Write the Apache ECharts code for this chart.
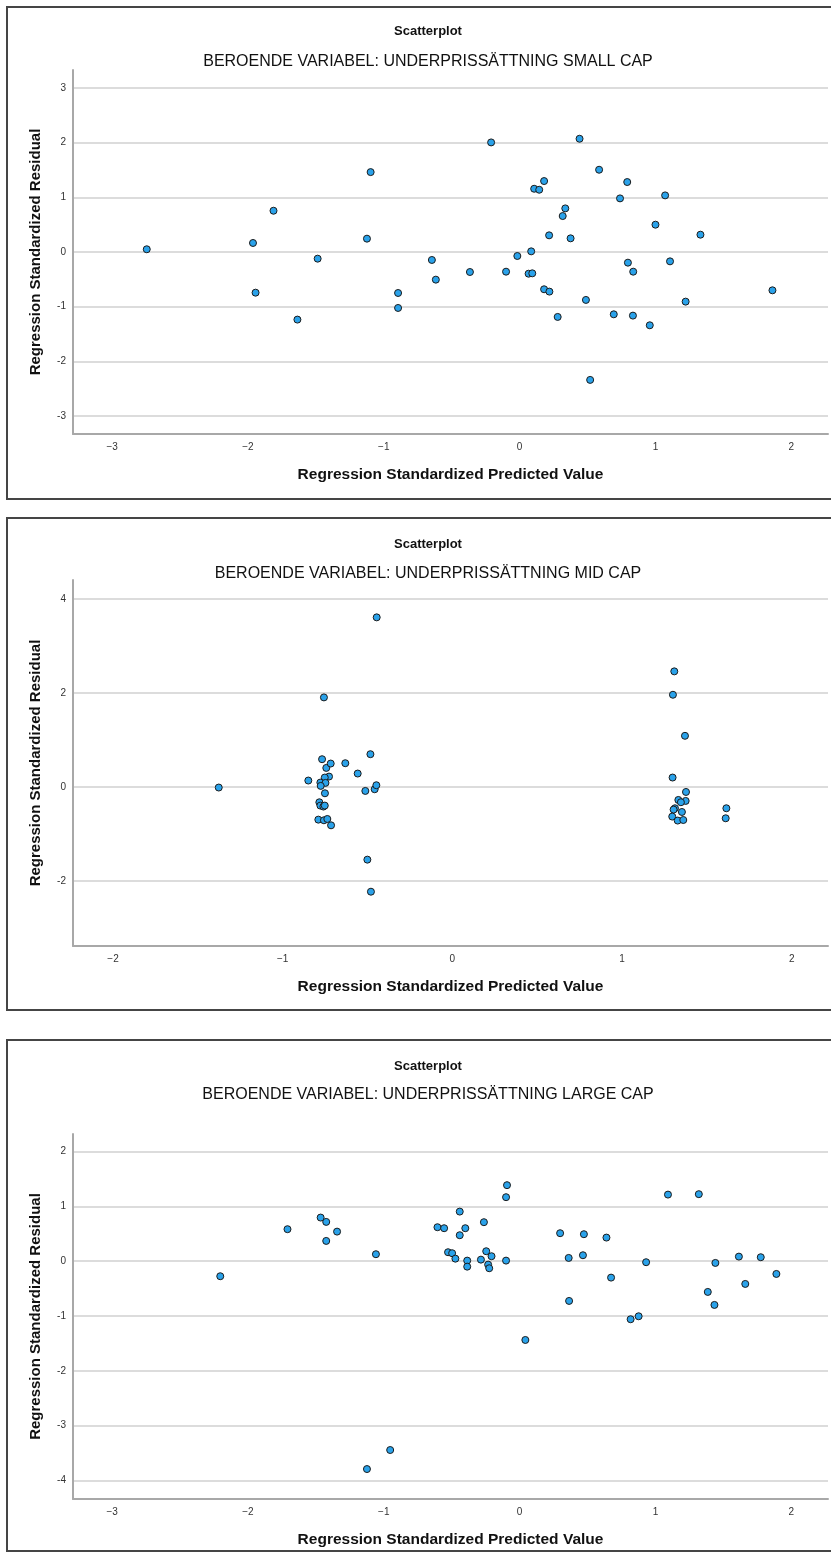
<!DOCTYPE html>
<html>
<head>
<meta charset="utf-8">
<script src="https://cdn.jsdelivr.net/npm/echarts@6/dist/echarts.min.js"></script>
<style>
  html, body { margin: 0; padding: 0; background: #fff; }
  #chart { width: 831px; height: 1558px; }
</style>
</head>
<body>
<div id="chart"></div>
<script>

// small cap
const smallX = [-2.745, -1.963, -1.812, -1.944, -1.487, -1.636, -1.097, -1.124, -0.895, -0.895, -0.646, -0.617,
  -0.21, -0.366, -0.1, -0.017, 0.085, 0.066, 0.093, 0.107, 0.144, 0.18, 0.217, 0.18, 0.219, 0.28, 0.317, 0.336,
  0.375, 0.441, 0.488, 0.519, 0.585, 0.693, 0.739, 0.792, 0.797, 0.836, 0.834, 0.958, 1.0, 1.071, 1.107, 1.222,
  1.331, 1.861];
const smallY = [0.05, 0.165, 0.755, -0.744, -0.122, -1.237, 1.462, 0.244, -0.75, -1.024, -0.146, -0.506,
  2.005, -0.366, -0.36, -0.073, 0.012, -0.397, -0.39, 1.157, 1.139, 1.298, 0.305, -0.682, -0.725, -1.188, 0.658, 0.798,
  0.25, 2.072, -0.877, -2.34, 1.505, -1.14, 0.981, 1.28, -0.195, -0.36, -1.164, -1.341, 0.5, 1.036, -0.171, -0.908,
  0.317, -0.701];

// mid cap
const midX = [-0.446, -0.757, -1.377, -0.849, -0.768, -0.743, -0.717, -0.631, -0.558, -0.483, -0.727, -0.752,
  -0.778, -0.748, -0.776, -0.751, -0.784, -0.778, -0.760, -0.752, -0.79, -0.757, -0.737, -0.715, -0.513, -0.458,
  -0.448, -0.501, -0.48,
  1.308, 1.3, 1.371, 1.298, 1.377, 1.332, 1.375, 1.347, 1.312, 1.304, 1.353, 1.296, 1.328, 1.361, 1.615, 1.611];
const midY = [3.61, 1.906, -0.013, 0.136, 0.59, 0.405, 0.498, 0.505, 0.285, 0.697, 0.221, 0.2,
  0.093, 0.086, 0.022, -0.135, -0.327, -0.397, -0.418, -0.397, -0.696, -0.71, -0.682, -0.817, -0.085, -0.049,
  0.036, -1.548, -2.23,
  2.46, 1.962, 1.088, 0.2, -0.107, -0.277, -0.298, -0.326, -0.454, -0.482, -0.533, -0.631, -0.716, -0.704, -0.454, -0.667];

// large cap
const largeX = [-2.204, -1.709, -1.465, -1.424, -1.424, -1.344, -1.058, -0.953, -1.124, -0.605, -0.556, -0.527,
  -0.497, -0.473, -0.441, -0.441, -0.4, -0.386, -0.386, -0.285, -0.263, -0.246, -0.207, -0.232, -0.224, -0.1,
  -0.1, -0.093, 0.042, 0.298, 0.361, 0.364, 0.473, 0.466, 0.639, 0.673, 0.817, 0.876, 0.931, 1.092, 1.319,
  1.385, 1.434, 1.441, 1.614, 1.661, 1.775, 1.89];
const largeY = [-0.274, 0.584, 0.796, 0.717, 0.37, 0.54, 0.128, -3.443, -3.79, 0.62, 0.602, 0.164,
  0.146, 0.047, 0.905, 0.474, 0.602, 0.011, -0.099, 0.029, 0.712, 0.182, 0.091, -0.062, -0.128, 0.011,
  1.168, 1.387, -1.436, 0.511, 0.06, -0.724, 0.493, 0.109, 0.431, -0.299, -1.058, -1.004, -0.018, 1.215, 1.223,
  -0.56, -0.797, -0.031, 0.084, -0.414, 0.073, -0.232];

const subtitles = [
  'BEROENDE VARIABEL: UNDERPRISSÄTTNING SMALL CAP',
  'BEROENDE VARIABEL: UNDERPRISSÄTTNING MID CAP',
  'BEROENDE VARIABEL: UNDERPRISSÄTTNING LARGE CAP'
];

const xRanges = [[-3.288, 2.27], [-2.236, 2.214], [-3.288, 2.27]];
const yRanges = [[-3.33, 3.33], [-3.386, 4.405], [-4.336, 2.32]];

const font = 'Arial, "Liberation Sans", sans-serif';

// panel layout
const panels = [
  { box: [7, 7, 840, 492], title: 30, sub: 60, grid: [73, 70, 757, 364] },
  { box: [7, 518, 840, 492], title: 543, sub: 572, grid: [73, 580, 757, 366] },
  { box: [7, 1040, 840, 511], title: 1065, sub: 1093, grid: [73, 1134, 757, 365] }
];

const dataSets = [
  smallX.map((x, i) => [x, smallY[i]]),
  midX.map((x, i) => [x, midY[i]]),
  largeX.map((x, i) => [x, largeY[i]])
];

const titles = [], grids = [], xAxes = [], yAxes = [], series = [], graphics = [];

panels.forEach((p, i) => {

  graphics.push({
    type: 'rect',
    shape: { x: p.box[0], y: p.box[1], width: p.box[2], height: p.box[3] },
    style: { fill: 'none', stroke: '#454545', lineWidth: 2 },
    silent: true
  });

  titles.push({
    text: 'Scatterplot', left: 423, top: p.title - 10, textAlign: 'center',
    textStyle: { fontFamily: font, fontSize: 13, fontWeight: 'bold', color: '#111' }
  });
  titles.push({
    text: subtitles[i], left: 423, top: p.sub - 11, textAlign: 'center',
    textStyle: { fontFamily: font, fontSize: 16, fontWeight: 'normal', color: '#111' }
  });

  grids.push({ left: p.grid[0], top: p.grid[1], width: p.grid[2], height: p.grid[3] });

  xAxes.push({
    gridIndex: i,
    type: 'value',
    min: xRanges[i][0],
    max: xRanges[i][1],
    splitNumber: 5,
    name: 'Regression Standardized Predicted Value',
    nameLocation: 'middle',
    nameGap: 33,
    nameTextStyle: { fontFamily: font, fontSize: 15.5, fontWeight: 'bold', color: '#111' },
    axisLine: { show: true, onZero: false, lineStyle: { color: '#a8a8a8', width: 2 } },
    axisTick: { show: false },
    splitLine: { show: false },
    axisLabel: {
      margin: 8, fontFamily: font, fontSize: 10, color: '#333',
      formatter: v => Number.isInteger(v) ? String(v).replace('-', '\u2212') : ''
    }
  });

  yAxes.push({
    gridIndex: i,
    type: 'value',
    min: yRanges[i][0],
    max: yRanges[i][1],
    splitNumber: 5,
    name: 'Regression Standardized Residual',
    nameLocation: 'middle',
    nameGap: 30,
    nameTextStyle: { fontFamily: font, fontSize: 15, fontWeight: 'bold', color: '#111' },
    axisLine: { show: true, onZero: false, lineStyle: { color: '#a8a8a8', width: 2 } },
    axisTick: { show: false },
    splitLine: { show: true, showMinLine: false, showMaxLine: false, lineStyle: { color: '#d0d0d0', width: 1.5 } },
    axisLabel: {
      margin: 7, fontFamily: font, fontSize: 10, color: '#333',
      formatter: v => Number.isInteger(v) ? String(v) : ''
    }
  });

  series.push({
    type: 'scatter',
    xAxisIndex: i,
    yAxisIndex: i,
    data: dataSets[i],
    symbolSize: 7,
    itemStyle: { color: '#2aa2ea', borderColor: '#1b1b1b', borderWidth: 1, opacity: 1 },
    emphasis: { disabled: true }
  });

});

const chart = echarts.init(document.getElementById('chart'), null, { renderer: 'canvas' });
chart.setOption({
  animation: false,
  backgroundColor: '#fff',
  title: titles,
  grid: grids,
  xAxis: xAxes,
  yAxis: yAxes,
  series: series,
  graphic: graphics
});

</script>
</body>
</html>
